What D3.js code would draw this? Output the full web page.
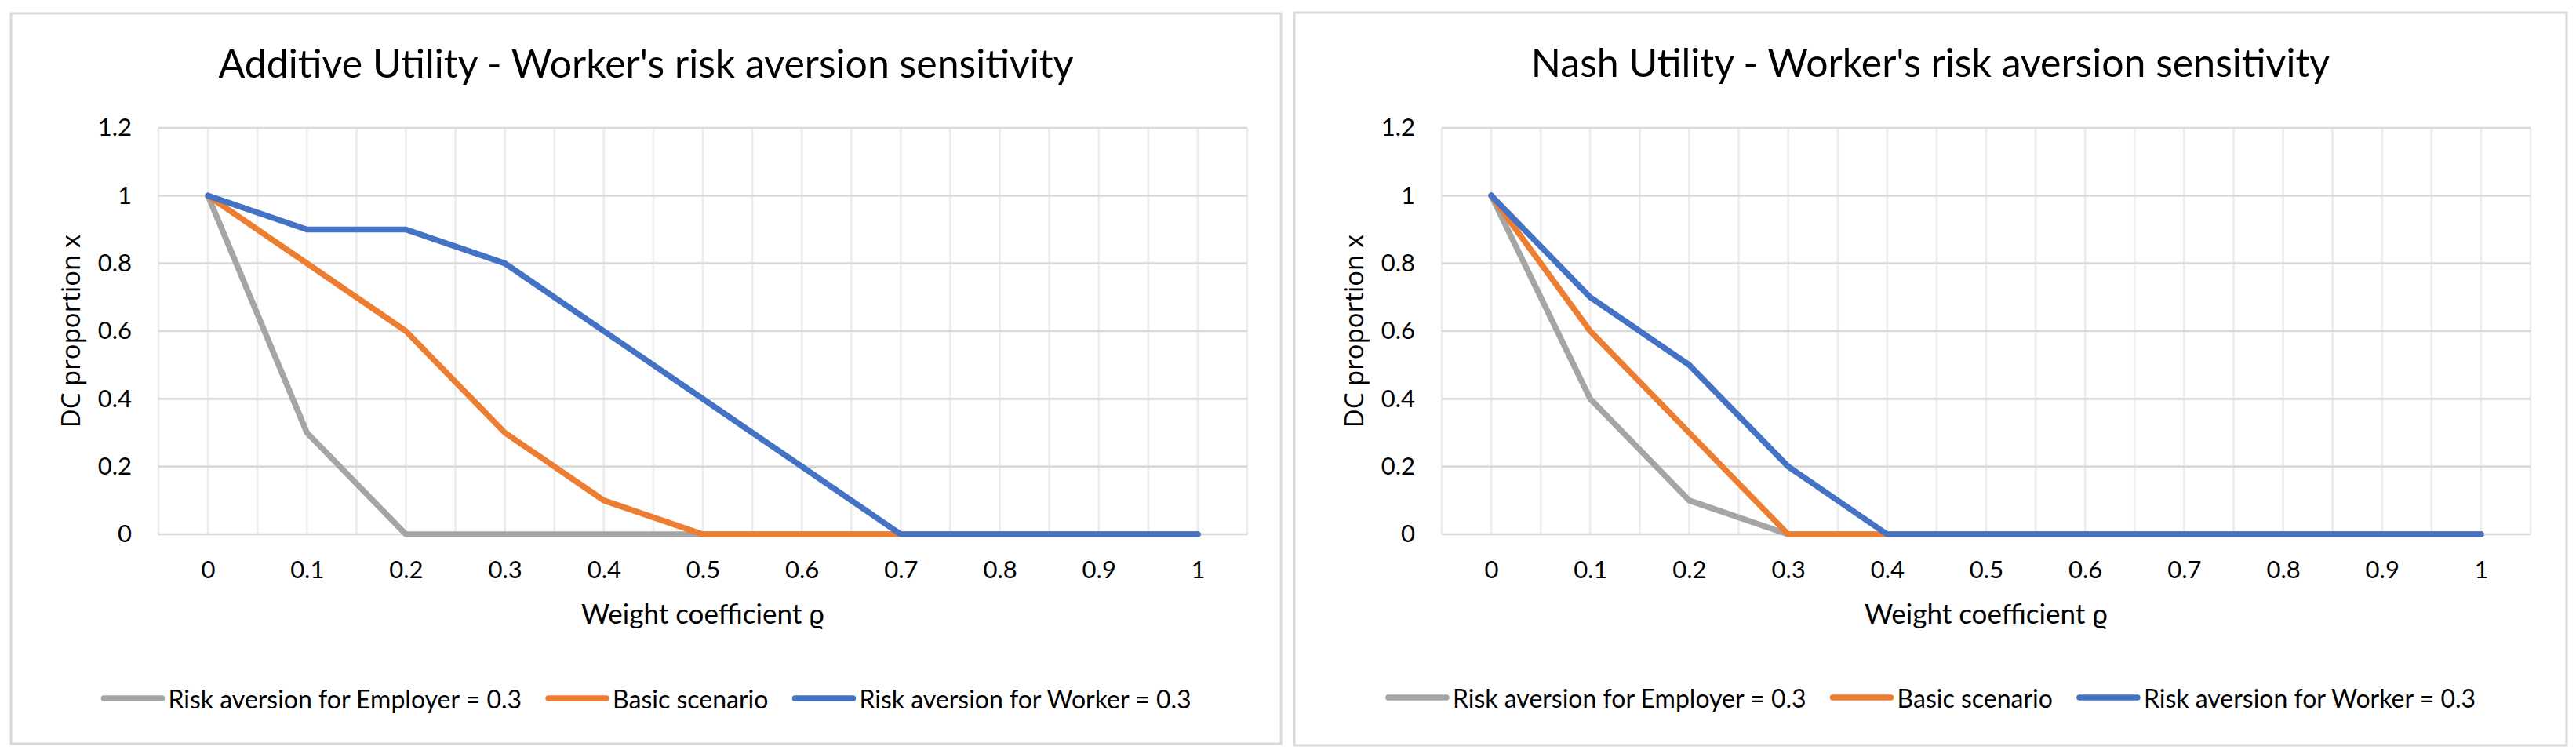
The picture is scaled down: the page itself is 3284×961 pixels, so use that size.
<!DOCTYPE html>
<html>
<head>
<meta charset="utf-8">
<script src="https://cdn.jsdelivr.net/npm/d3@7"></script>
<style>
  body { margin: 0; background: #fff; }
  text { fill: #000; }
</style>
</head>
<body>
<svg id="chart"></svg>
<script>
// data
var categories = ["0", "0.1", "0.2", "0.3", "0.4", "0.5", "0.6", "0.7", "0.8", "0.9", "1"];
var yTicks = [0, 0.2, 0.4, 0.6, 0.8, 1, 1.2];

var seriesNames = ["Risk aversion for Employer = 0.3", "Basic scenario", "Risk aversion for Worker = 0.3"];
var seriesColors = ["#A5A5A5", "#ED7D31", "#4472C4"];

var additiveEmployer = [1, 0.3, 0, 0, 0, 0, 0, 0, 0, 0, 0];
var additiveBasic    = [1, 0.8, 0.6, 0.3, 0.1, 0, 0, 0, 0, 0, 0];
var additiveWorker   = [1, 0.9, 0.9, 0.8, 0.6, 0.4, 0.2, 0, 0, 0, 0];

var nashEmployer = [1, 0.4, 0.1, 0, 0, 0, 0, 0, 0, 0, 0];
var nashBasic    = [1, 0.6, 0.3, 0, 0, 0, 0, 0, 0, 0, 0];
var nashWorker   = [1, 0.7, 0.5, 0.2, 0, 0, 0, 0, 0, 0, 0];

var width = 3284;
var height = 961;

var panels = [
  { title: "Additive Utility - Worker's risk aversion sensitivity",
    series: [additiveEmployer, additiveBasic, additiveWorker],
    box: { x: 14, y: 17, w: 1619, h: 931 } },
  { title: "Nash Utility - Worker's risk aversion sensitivity",
    series: [nashEmployer, nashBasic, nashWorker],
    box: { x: 1650, y: 16, w: 1622, h: 934 } }
];

var calibri = "Lato, 'Open Sans', sans-serif";

var svg = d3.select("#chart")
  .attr("width", width)
  .attr("height", height);

panels.forEach(function(p) {
  var b = p.box;
  var g = svg.append("g");

  // outer frame
  g.append("rect")
    .attr("x", b.x).attr("y", b.y)
    .attr("width", b.w).attr("height", b.h)
    .attr("fill", "#fff")
    .attr("stroke", "#D9D9D9")
    .attr("stroke-width", 3);

  var left = b.x + 188;
  var right = left + 1388;
  var top = 163;
  var bottom = 681;

  var xBand = d3.scaleBand()
    .domain(categories)
    .range([left, right]);
  var step = xBand.bandwidth();
  var xPos = function(c) { return xBand(c) + step / 2; };

  var yScale = d3.scaleLinear()
    .domain([0, 1.2])
    .range([bottom, top]);

  // vertical gridlines (major + minor)
  var vLines = [];
  categories.forEach(function(c) {
    vLines.push(xBand(c));
    vLines.push(xBand(c) + step / 2);
  });
  vLines.push(right);

  g.selectAll(".vgrid")
    .data(vLines)
    .enter()
    .append("line")
      .attr("x1", d => d).attr("x2", d => d)
      .attr("y1", top).attr("y2", bottom)
      .attr("stroke", "#EDEDED")
      .attr("stroke-width", 2.7);

  g.selectAll(".hgrid")
    .data(yTicks)
    .enter()
    .append("line")
      .attr("x1", left).attr("x2", right)
      .attr("y1", d => yScale(d)).attr("y2", d => yScale(d))
      .attr("stroke", "#D9D9D9")
      .attr("stroke-width", 2.7);

  // axes
  var yAxis = g.append("g")
    .attr("transform", "translate(" + left + ",0)")
    .call(d3.axisLeft(yScale).tickValues(yTicks).tickSize(0).tickPadding(34).tickFormat(d3.format("")));
  var xAxis = g.append("g")
    .attr("transform", "translate(0," + bottom + ")")
    .call(d3.axisBottom(d3.scalePoint().domain(categories).range([xPos(categories[0]), xPos(categories[categories.length - 1])]))
      .tickSize(0).tickPadding(34));

  [yAxis, xAxis].forEach(function(a) {
    a.select(".domain").remove();
    a.selectAll("text")
      .attr("fill", "#000")
      .style("font-family", calibri)
      .style("font-size", "31px");
  });

  // series lines
  var line = d3.line()
    .x((d, i) => xPos(categories[i]))
    .y(d => yScale(d));

  p.series.forEach(function(s, k) {
    g.append("path")
      .datum(s)
      .attr("d", line)
      .attr("fill", "none")
      .attr("stroke", seriesColors[k])
      .attr("stroke-width", 7.5)
      .attr("stroke-linejoin", "round")
      .attr("stroke-linecap", "round");
  });

  // titles
  g.append("text")
    .attr("x", b.x + b.w / 2)
    .attr("y", b.y + 82)
    .attr("text-anchor", "middle")
    .style("font-family", calibri)
    .style("font-size", "50px")
    .text(p.title);

  g.append("text")
    .attr("transform", "translate(" + (b.x + 75) + "," + ((top + bottom) / 2) + ") rotate(-90)")
    .attr("text-anchor", "middle")
    .attr("dominant-baseline", "central")
    .style("font-family", "'Open Sans', 'Noto Sans', sans-serif")
    .style("font-size", "33px")
    .text("DC proportion x");

  g.append("text")
    .attr("x", (left + right) / 2)
    .attr("y", 795)
    .attr("text-anchor", "middle")
    .style("font-family", calibri)
    .style("font-size", "35px")
    .text("Weight coefficient ϱ");

  // legend, centred in the frame
  var legend = g.append("g");
  var cx = 0;
  seriesNames.forEach(function(name, k) {
    legend.append("line")
      .attr("x1", cx + 4).attr("x2", cx + 78)
      .attr("y1", 0).attr("y2", 0)
      .attr("stroke", seriesColors[k])
      .attr("stroke-width", 7.5)
      .attr("stroke-linecap", "round");
    var t = legend.append("text")
      .attr("x", cx + 86)
      .attr("y", 0)
      .attr("dominant-baseline", "central")
      .style("font-family", calibri)
      .style("font-size", "32px")
      .text(name);
    cx += 86 + t.node().getComputedTextLength() + 30;
  });
  cx -= 30;
  legend.attr("transform", "translate(" + (b.x + b.w / 2 - cx / 2) + "," + (b.y + 873) + ")");
});
</script>
</body>
</html>
